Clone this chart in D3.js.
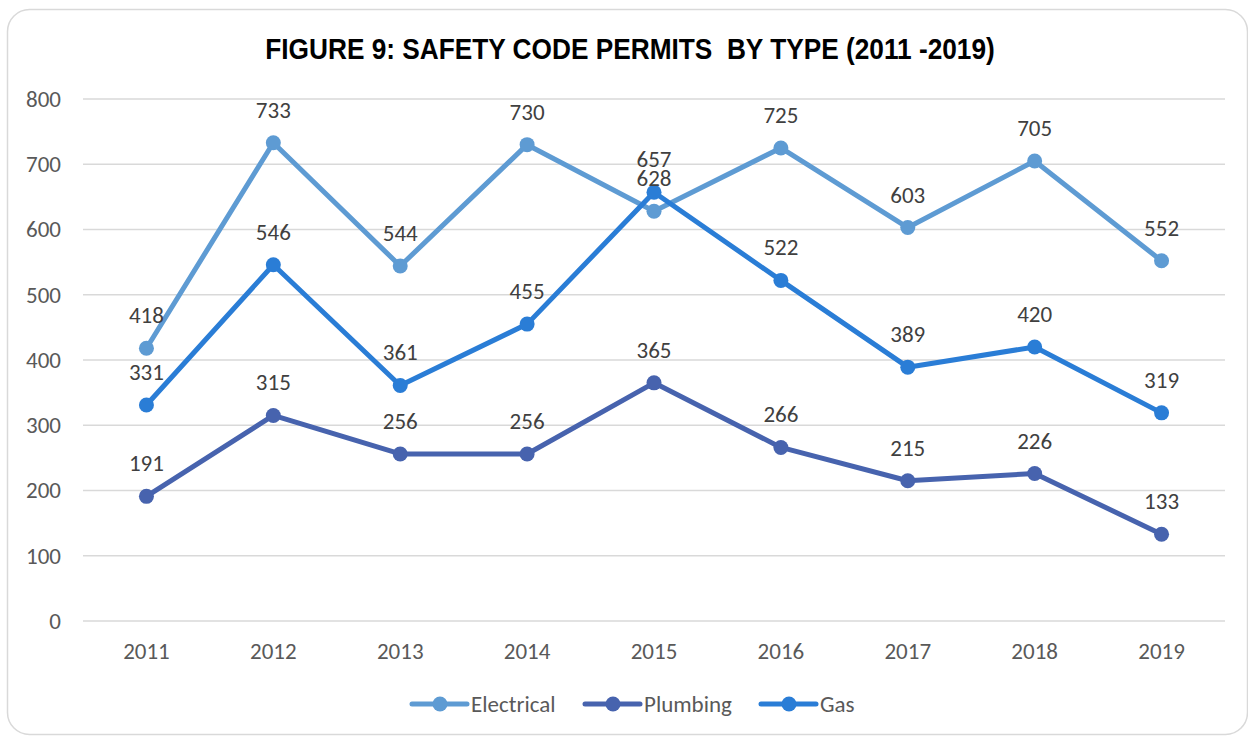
<!DOCTYPE html>
<html>
<head>
<meta charset="utf-8">
<script src="https://cdn.jsdelivr.net/npm/d3@7"></script>
<style>
  body { margin: 0; background: #fff; }
  text { font-family: Carlito, "Open Sans", "Noto Sans", sans-serif; }
</style>
</head>
<body>
<div id="chart"></div>
<script>
var years = ["2011","2012","2013","2014","2015","2016","2017","2018","2019"];
var electrical = [418, 733, 544, 730, 628, 725, 603, 705, 552];
var plumbing = [191, 315, 256, 256, 365, 266, 215, 226, 133];
var gas = [331, 546, 361, 455, 657, 522, 389, 420, 319];
var yTicks = [0, 100, 200, 300, 400, 500, 600, 700, 800];

var series = [
  { name: "Electrical", values: electrical, color: "#5e9bd3" },
  { name: "Plumbing", values: plumbing, color: "#4763ae" },
  { name: "Gas", values: gas, color: "#2a7dd6" }
];

var width = 1248, height = 738;

var svg = d3.select("#chart").append("svg")
    .attr("width", width)
    .attr("height", height);

// chart frame
svg.append("rect")
    .attr("x", 7.5).attr("y", 9.5)
    .attr("width", 1240).attr("height", 725)
    .attr("rx", 22)
    .attr("fill", "#fff")
    .attr("stroke", "#d9d9d9")
    .attr("stroke-width", 1.5);

// title - narrow bold, squeezed horizontally
svg.append("text")
    .attr("transform", "translate(630,59) scale(0.875,1)")
    .attr("text-anchor", "middle")
    .style("font-family", "'Liberation Sans Narrow', 'Arial Narrow', 'Liberation Sans', sans-serif")
    .style("font-weight", "bold")
    .style("font-size", "30px")
    .style("white-space", "pre")
    .attr("fill", "#000")
    .text("FIGURE 9: SAFETY CODE PERMITS  BY TYPE (2011 -2019)");

var x = d3.scaleBand().domain(years).range([83, 1225]);
var y = d3.scaleLinear().domain([0, 800]).range([621, 99]);

// gridlines
svg.append("g").selectAll("line")
  .data(yTicks)
  .enter().append("line")
    .attr("x1", 83).attr("x2", 1225)
    .attr("y1", function(d) { return y(d); })
    .attr("y2", function(d) { return y(d); })
    .attr("stroke", "#d9d9d9")
    .attr("stroke-width", 1.5);

// y axis labels
var yAxis = d3.axisLeft(y).tickValues(yTicks).tickSize(0).tickPadding(0);
var gy = svg.append("g").attr("transform", "translate(61,0)").call(yAxis);
gy.select(".domain").remove();
gy.selectAll("text")
    .attr("fill", "#595959")
    .style("font-size", "23px");

// x axis labels
var xAxis = d3.axisBottom(x).tickSize(0).tickPadding(0);
var gx = svg.append("g").attr("transform", "translate(0,643)").call(xAxis);
gx.select(".domain").remove();
gx.selectAll("text")
    .attr("fill", "#595959")
    .style("font-size", "23px");

var cx = function(d, i) { return x(years[i]) + x.bandwidth() / 2; };

var line = d3.line()
    .x(cx)
    .y(function(d) { return y(d); });

series.forEach(function(s) {
  var g = svg.append("g");
  g.append("path")
      .datum(s.values)
      .attr("d", line)
      .attr("fill", "none")
      .attr("stroke", s.color)
      .attr("stroke-width", 5)
      .attr("stroke-linejoin", "round");
  g.selectAll("circle")
    .data(s.values)
    .enter().append("circle")
      .attr("cx", cx)
      .attr("cy", function(d) { return y(d); })
      .attr("r", 7.5)
      .attr("fill", s.color);
});

// data labels
series.forEach(function(s) {
  svg.append("g").selectAll("text")
    .data(s.values)
    .enter().append("text")
      .attr("x", cx)
      .attr("y", function(d) { return y(d) - 25; })
      .attr("text-anchor", "middle")
      .attr("fill", "#404040")
      .style("font-size", "23px")
      .text(function(d) { return d; });
});

// legend
var legendX = [412, 585, 761];
var lg = svg.append("g").selectAll("g")
  .data(series)
  .enter().append("g")
    .attr("transform", function(d, i) { return "translate(" + legendX[i] + ",704)"; });
lg.append("line")
    .attr("x1", 0).attr("x2", 55)
    .attr("stroke", function(d) { return d.color; })
    .attr("stroke-width", 5)
    .attr("stroke-linecap", "round");
lg.append("circle")
    .attr("cx", 28).attr("r", 7.5)
    .attr("fill", function(d) { return d.color; });
lg.append("text")
    .attr("x", 59).attr("dy", "0.35em")
    .attr("fill", "#595959")
    .style("font-size", "23px")
    .text(function(d) { return d.name; });
</script>
</body>
</html>
